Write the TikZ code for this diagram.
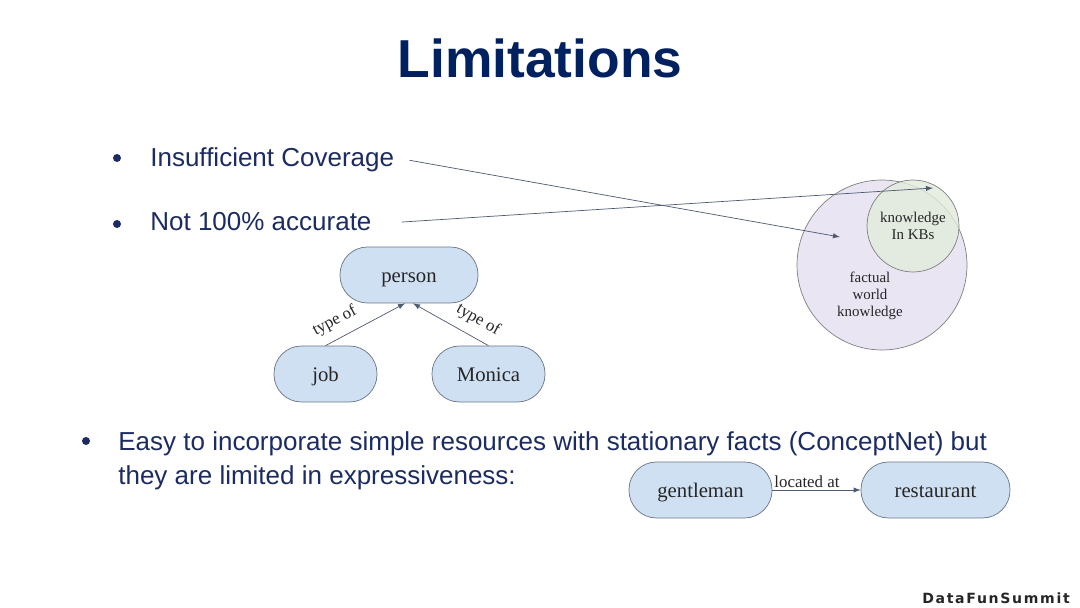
\documentclass[tikz,border=0pt]{standalone}
\usepackage{fontspec}
\setmainfont{Liberation Sans}
\newfontfamily\timesfont{Liberation Serif}
\newfontfamily\brandfont[LetterSpace=12]{DejaVu Sans}
\usetikzlibrary{arrows}
\definecolor{titleblue}{HTML}{002060}
\definecolor{textblue}{HTML}{1C2C62}
\definecolor{nodefill}{HTML}{CFE0F3}
\definecolor{nodeline}{HTML}{6A7585}
\definecolor{arrowgray}{HTML}{4D5A70}
\definecolor{worldfill}{HTML}{E9E5F3}
\definecolor{kbfill}{HTML}{E2ECDB}

\begin{document}
\begin{tikzpicture}[x=0.02cm,y=-0.02cm]
\tikzstyle{every path}=[thin]
\edef\conceptheight{1.12cm}
\tikzstyle{concept}=[draw=nodeline,fill=nodefill,rounded corners=0.55cm,minimum height=\conceptheight,text height=0.9em,text depth=0em,font=\timesfont\fontsize{11.8}{14}\selectfont,text=black!85]
\tikzstyle{relation}=[draw=arrowgray,-latex]
\tikzstyle{rellabel}=[font=\timesfont\fontsize{9.6}{11}\selectfont,text=black!85]
\tikzstyle{bullettext}=[anchor=base west,inner sep=0pt,text=textblue,font=\fontsize{14.8}{19.3}\selectfont]
\tikzstyle{bulletdot}=[circle,fill=textblue,inner sep=0pt,minimum size=0.16cm]
\tikzstyle{venn}=[circle,draw=black!50,inner sep=0pt,outer sep=0pt]
\tikzstyle{venntext}=[align=center,font=\timesfont\fontsize{8.5}{9.7}\selectfont,text=black!85]
\useasboundingbox (0,0) rectangle (1080,608);
\fill[white] (0,0) rectangle (1080,608);

% title
\node[text=titleblue,font=\bfseries\fontsize{30.4}{36}\selectfont] (title) at (540,58) {Limitations};

% bullet points
\node[bulletdot] (dotcov) at (117,158) {};
\node[bullettext] (cov) at (150,167) {Insufficient Coverage};
\node[bulletdot] (dotacc) at (117,224) {};
\node[bullettext] (acc) at (150,231) {Not 100\% accurate};
\node[bulletdot] (doteasy) at (86,441) {};
\node[bullettext,align=left,anchor=north west] (easy) at (118,431)
 {Easy to incorporate simple resources with stationary facts (ConceptNet) but\\
  they are limited in expressiveness:};

% knowledge circles
\node[venn,fill=worldfill,minimum size=3.4cm] (world) at (882,265) {};
\node[venn,fill=kbfill,fill opacity=0.8,text opacity=1,minimum size=1.84cm,venntext] (kb) at (913,226) {knowledge\\In KBs};
\node[venntext] (worldtext) at (870,296) {factual\\world\\knowledge};
\coordinate (worldpt) at (840,237);
\coordinate (kbpt) at (933,188);
\draw[relation] ([xshift=0.3cm]cov.east) -- (worldpt);
\draw[relation] ([xshift=0.6cm]acc.east) -- (kbpt);

% type hierarchy
\node[concept,minimum width=2.76cm] (person) at (409,275) {person};
\node[concept,minimum width=2.06cm] (job) at (325.5,374) {job};
\node[concept,minimum width=2.26cm] (monica) at (488.5,374) {Monica};
\draw[relation] (job.north) -- node[rellabel,sloped,above,pos=0.22,yshift=2pt] {type of} ([xshift=-0.08cm]person.south);
\draw[relation] (monica.north) -- node[rellabel,sloped,above,pos=0.25,yshift=2pt] {type of} ([xshift=0.08cm]person.south);

% located at
\node[concept,minimum width=2.86cm] (gentleman) at (700.5,490) {gentleman};
\node[concept,minimum width=2.98cm] (restaurant) at (935.5,490) {restaurant};
\draw[relation] (gentleman) -- node[rellabel,anchor=south west,pos=0,inner sep=1pt] {located at} (restaurant);

% footer
\node[anchor=base east,text=black!85,font=\brandfont\bfseries\fontsize{8}{9}\selectfont] (brand) at (1076,603) {DataFunSummit};
\end{tikzpicture}
\end{document}
